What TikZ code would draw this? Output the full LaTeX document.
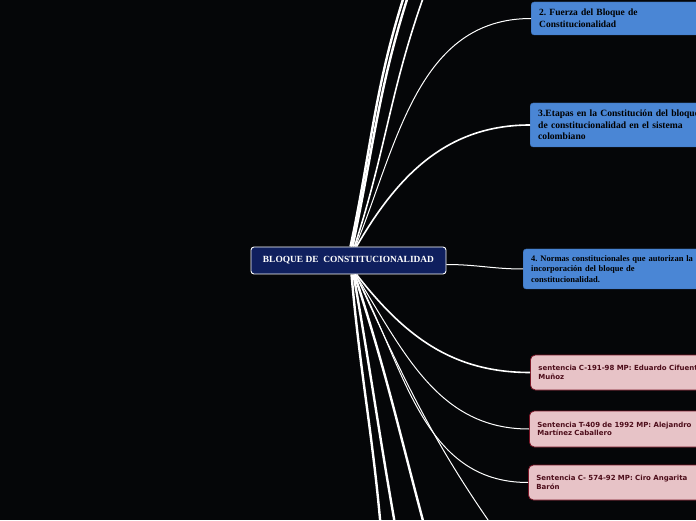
\documentclass[tikz,border=0pt]{standalone}
\usepackage{fontspec}
\setmainfont{Liberation Serif}
\newfontfamily\verdanafont{DejaVu Sans}
\definecolor{bgblack}{HTML}{050608}
\definecolor{rootblue}{HTML}{0F1F5E}
\definecolor{topicblue}{HTML}{4A86D5}
\definecolor{topicedge}{HTML}{3A6DB5}
\definecolor{casepink}{HTML}{E7C3C7}
\definecolor{caseedge}{HTML}{7A1526}
\definecolor{casetext}{HTML}{4D0D1A}
\frenchspacing
\begin{document}
\begin{tikzpicture}[x=1pt, y=1pt, root style/.style={rectangle, draw=white, line width=0.9pt, fill=rootblue, rounded corners=3pt, text=white, font=\bfseries\fontsize{9.4}{10}\selectfont, minimum width=195pt, minimum height=27pt}, topic style/.style={rectangle, draw=topicedge, fill=topicblue, rounded corners=3pt, anchor=west, align=left, text width=220pt, inner xsep=8pt, font=\bfseries\fontsize{9.5}{12}\selectfont}, case style/.style={rectangle, draw=caseedge, line width=0.8pt, fill=casepink, rounded corners=5pt, anchor=west, align=left, text width=220pt, inner xsep=8pt, text=casetext, font=\verdanafont\bfseries\fontsize{7}{8.5}\selectfont, minimum height=35pt}, thick line/.style={white, line width=2.4pt}, thin line/.style={white, line width=1pt}]
	\fill[bgblack] (0,0) rectangle (696,520);
	\useasboundingbox (0,0) rectangle (696,520);
	% main node and the topics
	\node[root style] (R) at (348.5,259.5) {BLOQUE DE\ \ CONSTITUCIONALIDAD};
	\node[topic style, minimum height=33pt] (T2) at (531,501.5) {2. Fuerza del Bloque de\\Constitucionalidad};
	\node[topic style, minimum height=44pt, font=\bfseries\fontsize{9.6}{11.5}\selectfont] (T3) at (530,395) {3.Etapas en la Constitución del bloque\\de constitucionalidad en el sistema\\colombiano};
	\node[topic style, minimum height=40pt, font=\bfseries\fontsize{8.5}{10.5}\selectfont] (T4) at (523,251) {4. Normas constitucionales que autorizan la\\incorporación del bloque de\\constitucionalidad.};
	\node[case style] (C1) at (530,147.5) {sentencia C-191-98 MP: Eduardo Cifuentes\\Muñoz};
	\node[case style, minimum height=36pt] (C2) at (529,91) {Sentencia T-409 de 1992 MP: Alejandro\\Martínez Caballero};
	\node[case style] (C3) at (528,37.5) {Sentencia C- 574-92 MP: Ciro Angarita\\Barón};
	% branches leaving the picture
	\coordinate (up1) at (406,530);
	\coordinate (up2) at (410,530);
	\coordinate (up3) at (426,530);
	\coordinate (down1) at (381,-10);
	\coordinate (down2) at (396,-10);
	\coordinate (down3) at (426,-12);
	\coordinate (down4) at (495,-10);
	\draw[thick line] ([xshift=2pt]R.north) to[out=78, in=-108] (up1);
	\draw[thick line] ([xshift=4pt]R.north) to[out=78, in=-108] (up2);
	\draw[thin line, line width=1.6pt] ([xshift=6pt]R.north) to[out=72, in=-110] (up3);
	\draw[thin line] ([xshift=7pt]R.north) to[out=68, in=180] (T2.west);
	\draw[thin line, line width=1.6pt] ([xshift=8pt]R.north) to[out=60, in=180] (T3.west);
	\draw[thin line] ([yshift=-4pt]R.east) to[out=0, in=180] (T4.west);
	\draw[thick line] ([xshift=3pt]R.south) to[out=-85, in=95] (down1);
	\draw[thick line] ([xshift=5pt]R.south) to[out=-80, in=100] (down2);
	\draw[thick line] ([xshift=6pt]R.south) to[out=-72, in=105] (down3);
	\draw[thin line] ([xshift=7pt]R.south) to[out=-65, in=125] (down4);
	\draw[thin line] ([xshift=7pt]R.south) to[out=-62, in=180] (C3.west);
	\draw[thin line] ([xshift=7pt]R.south) to[out=-58, in=180] (C2.west);
	\draw[thin line, line width=1.6pt] ([xshift=8pt]R.south) to[out=-52, in=180] (C1.west);
\end{tikzpicture}
\end{document}
